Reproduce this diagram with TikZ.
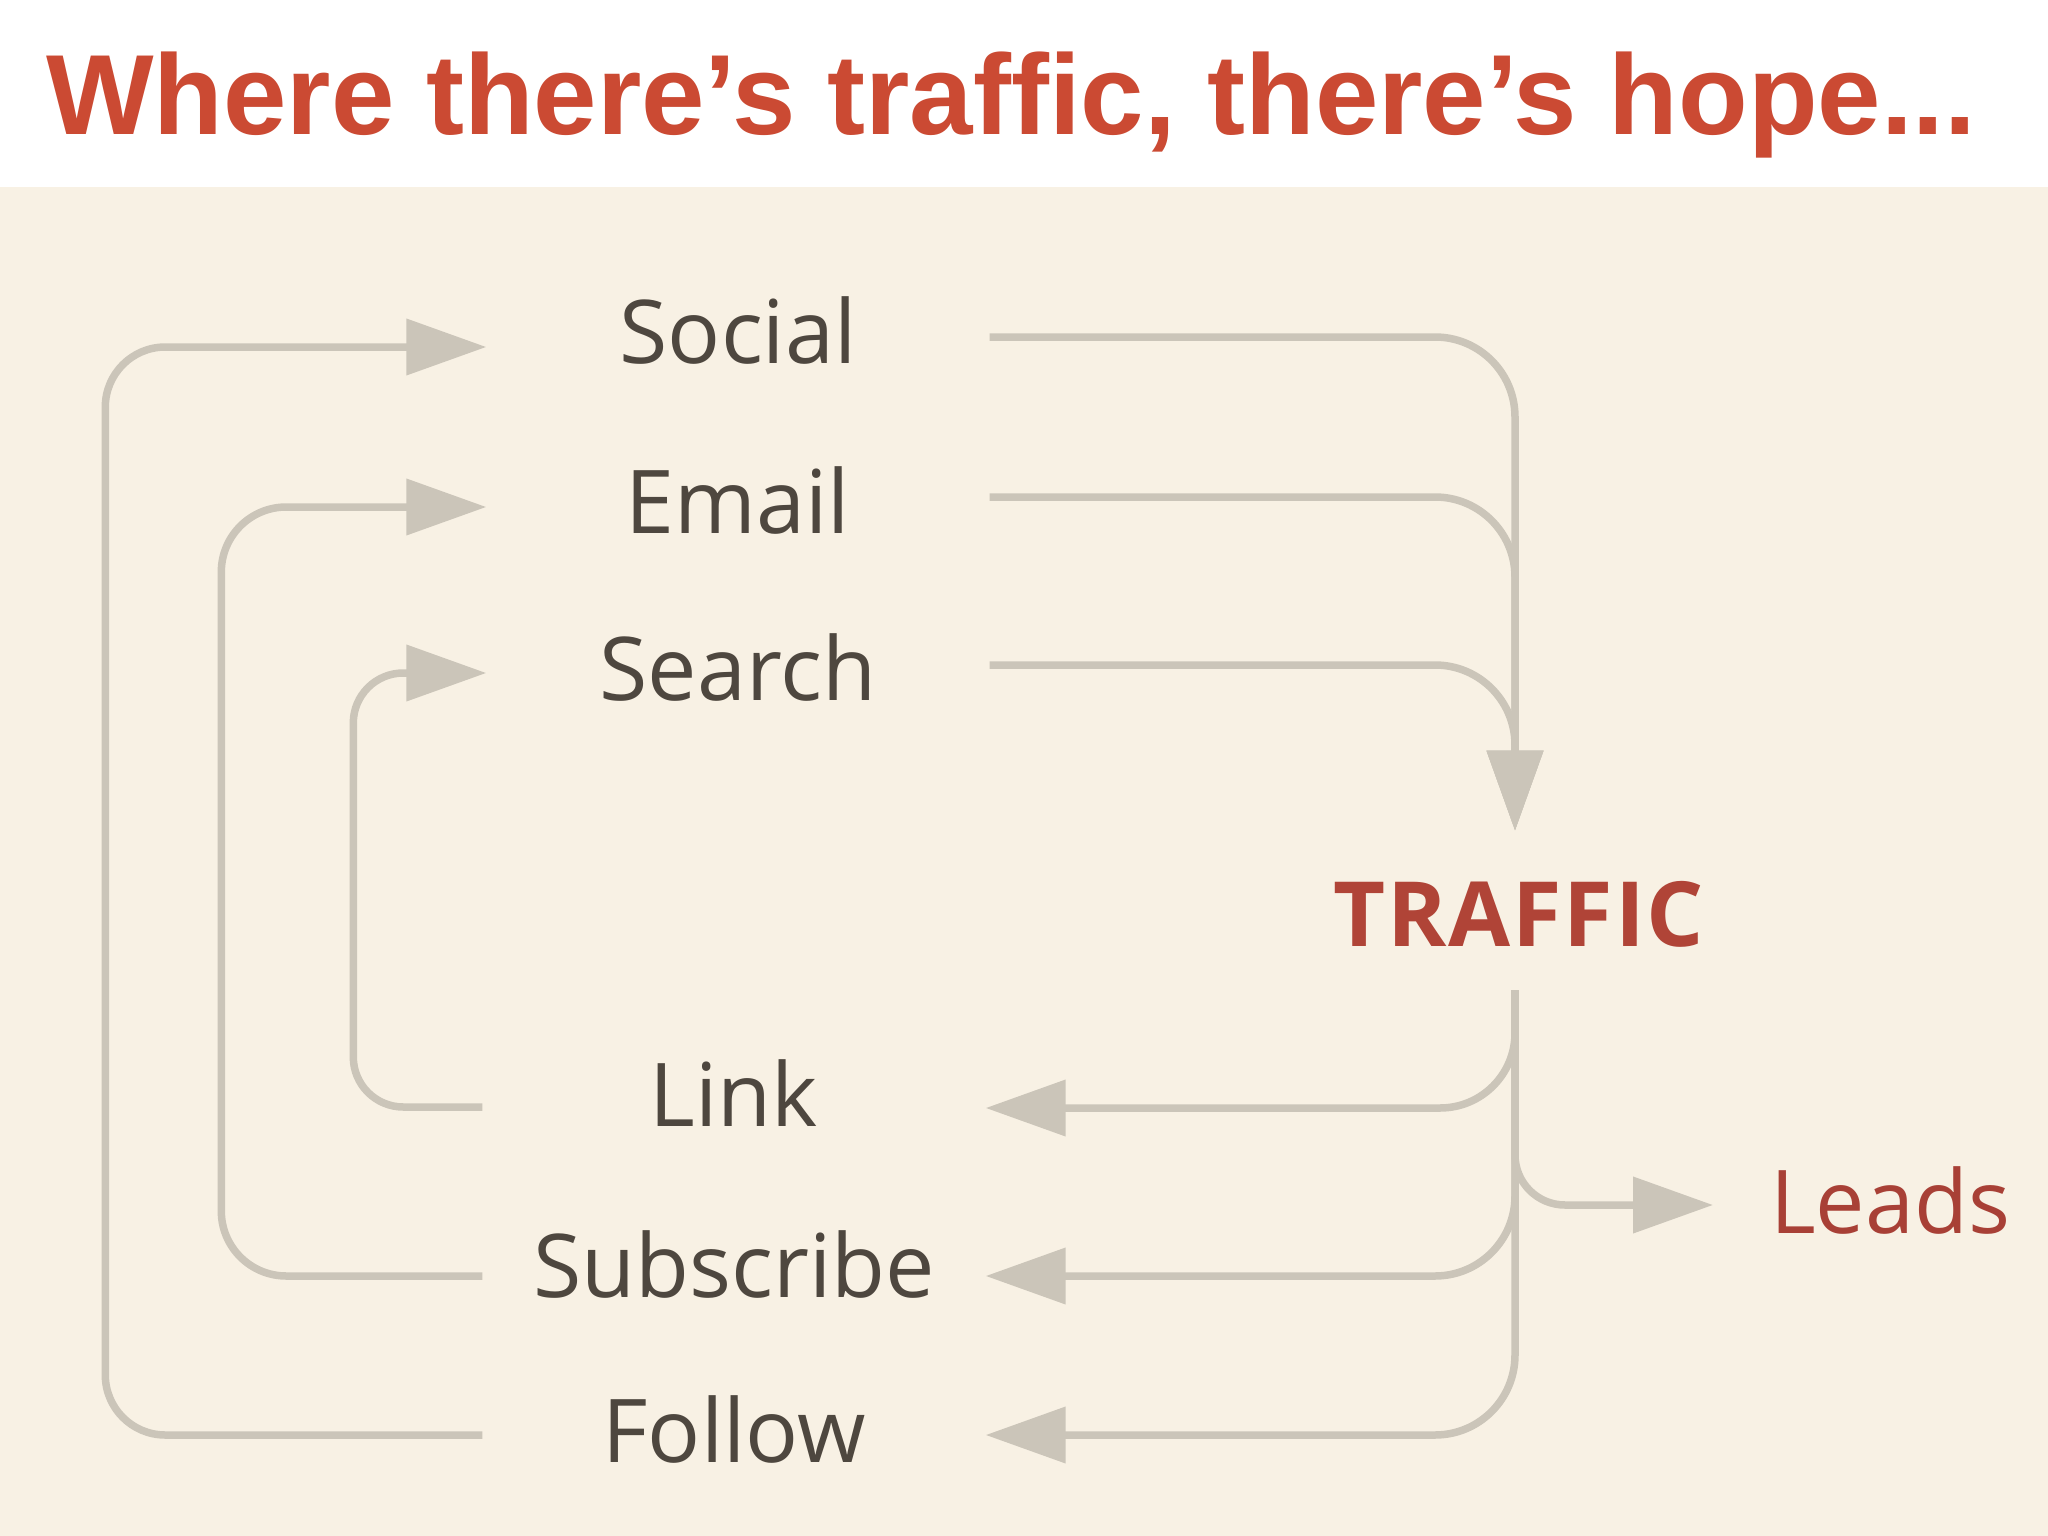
\documentclass[tikz,border=0pt]{standalone}
\usepackage{fontspec}
\setmainfont{Open Sans}
\newfontfamily\titlefont{Liberation Sans}
\newfontfamily\trafficfont[LetterSpace=2]{Open Sans}
\usetikzlibrary{arrows.meta}
\definecolor{bg}{RGB}{248,241,228}
\definecolor{linec}{RGB}{203,197,185}
\definecolor{titlered}{RGB}{203,74,51}
\definecolor{labelc}{RGB}{78,71,63}
\definecolor{trafficc}{RGB}{176,68,55}
\definecolor{leadsc}{RGB}{168,64,54}
\begin{document}
\begin{tikzpicture}[x=1pt,y=-1pt,
  lbl/.style={inner sep=0pt, anchor=base, minimum width=503pt, text=labelc, font=\fontsize{88}{106}\selectfont},
  flow/.style={draw=linec, line width=7.5pt},
  arrowed/.style={-{Triangle[length=80pt,width=55pt]}},
  titletext/.style={inner sep=0pt, anchor=base west, font=\titlefont\bfseries\fontsize{114}{130}\selectfont}
]
\fill[white] (0,0) rectangle (2048,187);
\fill[bg] (0,187) rectangle (2048,1536);
\useasboundingbox (0,0) rectangle (2048,1536);

% title
\node[titletext, text=titlered] (title) at (46,135) {Where there’s traffic, there’s hope...};

% labels
\node[lbl] (social) at (738,363) {Social};
\node[lbl] (email) at (738,533) {Email};
\node[lbl] (search) at (738,700) {Search};
\node[lbl] (link) at (734,1126) {Link};
\node[lbl] (subscribe) at (734,1297) {Subscribe};
\node[lbl] (follow) at (734,1462) {Follow};
\node[inner sep=0pt, anchor=base, text=trafficc, font=\trafficfont\bfseries\fontsize{90}{106}\selectfont] (traffic) at (1519,946) {TRAFFIC};
\node[inner sep=0pt, anchor=base west, text=leadsc, font=\fontsize{88}{106}\selectfont] (leads) at (1770,1233) {Leads};

% left loops
\draw[flow, arrowed, rounded corners=60pt] ([yshift=27pt]follow.base west) -| ([xshift=-381pt,yshift=16pt]social.base west) -- ([yshift=16pt]social.base west);
\draw[flow, arrowed, rounded corners=65pt] ([yshift=21pt]subscribe.base west) -| ([xshift=-265pt,yshift=26pt]email.base west) -- ([yshift=26pt]email.base west);
\draw[flow, arrowed, rounded corners=50pt] ([yshift=19pt]link.base west) -| ([xshift=-133pt,yshift=27pt]search.base west) -- ([yshift=27pt]search.base west);

% into traffic
\draw[flow, arrowed, rounded corners=80pt] ([yshift=26pt]social.base east) -| ([xshift=-4pt,yshift=50pt]traffic.north);
\draw[flow, arrowed, rounded corners=80pt] ([yshift=36pt]email.base east) -| ([xshift=-4pt,yshift=50pt]traffic.north);
\draw[flow, arrowed, rounded corners=80pt] ([yshift=35pt]search.base east) -| ([xshift=-4pt,yshift=50pt]traffic.north);

% out of traffic
\draw[flow, arrowed, rounded corners=75pt] ([xshift=-4pt,yshift=-43pt]traffic.south) |- ([yshift=18pt]link.base east);
\draw[flow, arrowed, rounded corners=80pt] ([xshift=-4pt,yshift=-43pt]traffic.south) |- ([yshift=21pt]subscribe.base east);
\draw[flow, arrowed, rounded corners=80pt] ([xshift=-4pt,yshift=-43pt]traffic.south) |- ([yshift=27pt]follow.base east);
\draw[flow, arrowed, rounded corners=50pt] ([xshift=-4pt,yshift=-43pt]traffic.south) |- ([xshift=-57pt,yshift=28pt]leads.base west);
\end{tikzpicture}
\end{document}
